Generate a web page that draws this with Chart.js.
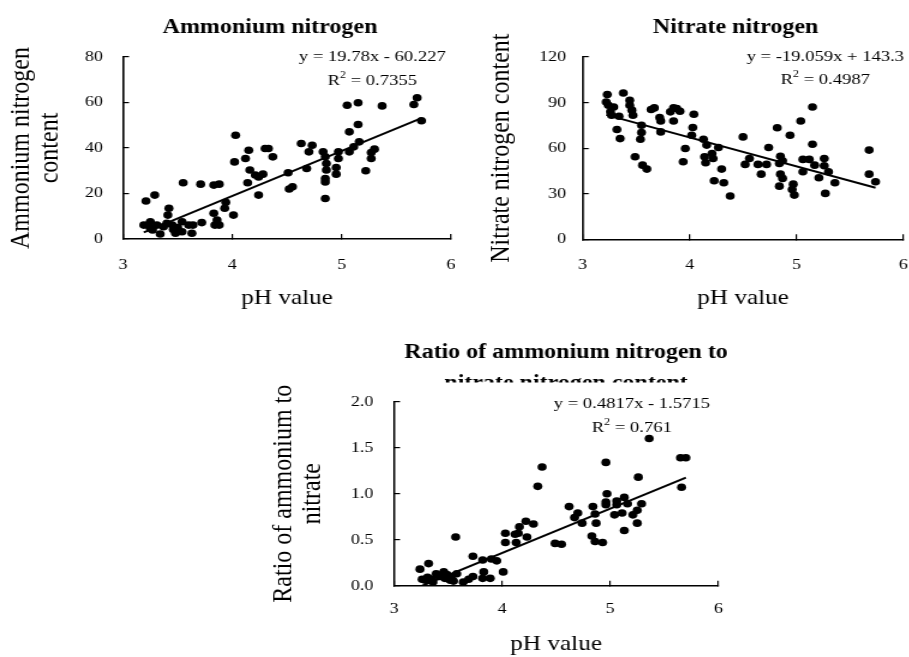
<!DOCTYPE html>
<html><head><meta charset="utf-8">
<script src="https://cdn.jsdelivr.net/npm/chart.js@4/dist/chart.umd.min.js"></script>
<style>
html,body{margin:0;padding:0;background:#fff;width:909px;height:657px;overflow:hidden;position:relative;}
.wrap{position:absolute;transform-origin:0 0;transform:scaleX(1.2);}
canvas{display:block;}
</style></head><body>
<div class="wrap" id="w1"><canvas id="c1"></canvas></div>
<div class="wrap" id="w2"><canvas id="c2"></canvas></div>
<div class="wrap" id="w3"><canvas id="c3"></canvas></div>
<script>
// ---------- data ----------
const ammPH = [3.19,3.21,3.23,3.25,3.25,3.27,3.29,3.31,3.34,3.37,3.40,3.41,3.42,3.45,3.46,3.48,3.50,3.54,3.54,3.55,3.60,3.63,3.64,3.71,3.72,3.83,3.83,3.84,3.86,3.88,3.88,3.93,3.94,4.01,4.02,4.03,4.12,4.14,4.15,4.16,4.21,4.24,4.24,4.28,4.30,4.33,4.37,4.51,4.52,4.55,4.63,4.68,4.70,4.73,4.83,4.85,4.85,4.85,4.85,4.86,4.86,4.95,4.95,4.97,4.97,5.05,5.07,5.07,5.11,5.15,5.15,5.16,5.22,5.27,5.27,5.30,5.37,5.66,5.69,5.73];
const ammVal = [6.1,16.7,6.1,4.7,7.6,4.0,19.3,6.1,2.2,5.4,6.9,10.5,13.5,6.1,4.2,2.5,5.0,7.6,3.2,24.7,6.1,2.5,6.1,24.1,7.2,23.7,11.3,6.1,8.3,24.1,6.1,13.5,16.1,10.5,33.9,45.6,35.4,24.7,39.0,30.3,28.1,27.3,19.3,28.5,39.8,39.8,36.1,29.1,22.0,23.0,42.0,31.0,38.3,41.2,38.3,36.1,26.6,25.1,17.8,33.2,30.3,31.4,28.5,35.4,38.3,58.8,47.1,38.3,40.5,59.9,50.3,42.7,30.0,35.4,38.0,39.5,58.5,59.1,62.1,52.0];

const nitPH = [3.23,3.22,3.24,3.29,3.26,3.27,3.34,3.38,3.44,3.44,3.46,3.47,3.32,3.35,3.49,3.55,3.55,3.54,3.56,3.60,3.64,3.67,3.72,3.73,3.73,3.82,3.85,3.88,3.91,3.85,3.96,3.94,4.04,4.03,4.02,4.13,4.16,4.14,4.15,4.21,4.22,4.27,4.23,4.30,4.32,4.38,4.50,4.52,4.56,4.64,4.67,4.72,4.74,4.82,4.85,4.84,4.87,4.85,4.87,4.84,4.94,4.97,4.96,4.98,5.04,5.06,5.06,5.12,5.15,5.15,5.17,5.21,5.26,5.26,5.27,5.30,5.36,5.68,5.68,5.74];
const nitVal = [95.3,90.4,88.2,87.1,83.9,81.7,81.0,96.3,91.5,88.2,85.0,81.7,72.3,66.3,54.3,75.1,70.3,65.9,48.8,46.2,85.4,86.5,80.1,77.9,70.7,83.9,86.5,86.1,84.3,77.9,59.8,51.0,82.3,73.6,68.5,65.9,62.0,54.3,50.4,56.5,53.2,60.4,38.5,46.2,37.2,28.5,67.4,49.3,53.2,49.3,42.9,49.3,60.4,73.4,54.7,49.9,51.7,42.9,40.1,35.0,68.5,36.3,32.8,29.1,77.9,44.5,52.6,52.6,87.1,62.6,48.8,40.5,53.2,48.4,30.2,44.5,37.2,58.7,42.9,37.9];

const ratPH = [3.24,3.31,3.32,3.26,3.29,3.35,3.36,3.39,3.42,3.44,3.46,3.47,3.49,3.52,3.53,3.57,3.58,3.55,3.64,3.69,3.73,3.73,3.82,3.83,3.82,3.89,3.90,3.95,4.01,4.03,4.03,4.12,4.13,4.16,4.15,4.22,4.23,4.29,4.33,4.37,4.49,4.55,4.62,4.67,4.70,4.74,4.84,4.86,4.87,4.83,4.86,4.93,4.96,4.97,4.96,4.96,5.04,5.06,5.06,5.11,5.13,5.13,5.16,5.21,5.25,5.25,5.26,5.29,5.36,5.65,5.70,5.66];
const ratVal = [0.18,0.09,0.24,0.07,0.06,0.07,0.04,0.13,0.10,0.11,0.15,0.08,0.12,0.06,0.09,0.53,0.13,0.05,0.04,0.07,0.10,0.32,0.28,0.15,0.08,0.08,0.29,0.27,0.15,0.57,0.47,0.56,0.47,0.64,0.57,0.70,0.53,0.67,1.08,1.29,0.46,0.45,0.86,0.74,0.79,0.68,0.86,0.78,0.68,0.54,0.48,0.47,1.34,1.00,0.91,0.88,0.77,0.92,0.88,0.79,0.96,0.60,0.89,0.77,0.82,0.68,1.18,0.89,1.60,1.39,1.39,1.07];

// trendline coefficients [slope, intercept], R²
const ammFit = [19.78, -60.227];  const ammR2 = '0.7355';
const nitFit = [-19.059, 143.3];  const nitR2 = '0.4987';
const ratFit = [0.4817, -1.5715]; const ratR2 = '0.761';

// axis ticks
const xTicks = [3, 4, 5, 6];
const ammTicks = [0, 20, 40, 60, 80];
const nitTicks = [0, 30, 60, 90, 120];
const ratTicks = [0, 0.5, 1.0, 1.5, 2.0];

const titles = ['Ammonium nitrogen', 'Nitrate nitrogen', ['Ratio of ammonium nitrogen to', 'nitrate nitrogen content']];
const yTitles = [['Ammonium nitrogen', 'content'], 'Nitrate nitrogen content', ['Ratio of ammonium to', 'nitrate']];
const xTitle = 'pH value';

// ---------- rendering ----------
const S = 1.2;
const FONT = "'Liberation Serif', 'Times New Roman', serif";

function eqString(fit) {
  const b = fit[1];
  return 'y = ' + fit[0] + 'x ' + (b < 0 ? '- ' : '+ ') + Math.abs(b);
}
function pts(xs, ys) { return xs.map((x, i) => ({x: x, y: ys[i]})); }
function trend(xs, fit) {
  const lo = Math.min(...xs), hi = Math.max(...xs);
  return [lo, hi].map(x => ({x: x, y: fit[0] * x + fit[1]}));
}

const eqPlugin = {
  id: 'eqText',
  beforeDatasetsDraw(chart, args, o) {
    if (o.cover) {
      const c = o.cover, ctx = chart.ctx;
      ctx.save(); ctx.fillStyle = '#fff'; ctx.fillRect(c.x, c.y, c.w, c.h); ctx.restore();
    }
  },
  afterDatasetsDraw(chart, args, o) {
    const ctx = chart.ctx, xs = chart.scales.x, ys = chart.scales.y;
    const sz = o.size;
    ctx.save();
    ctx.fillStyle = '#000';
    ctx.textBaseline = 'middle';
    ctx.textAlign = 'center';
    ctx.font = sz + 'px ' + FONT;
    const cx = xs.getPixelForValue(o.cx);
    ctx.fillText(o.eq, cx, ys.getPixelForValue(o.eqY));
    const yy = ys.getPixelForValue(o.r2Y);
    const a = 'R', b = ' = ' + o.r2;
    const wa = ctx.measureText(a).width, wb = ctx.measureText(b).width;
    ctx.font = (sz * 0.65) + 'px ' + FONT;
    const ws = ctx.measureText('2').width;
    const x0 = cx - (wa + ws + wb) / 2;
    ctx.textAlign = 'left';
    ctx.fillText('2', x0 + wa, yy - sz * 0.33);
    ctx.font = sz + 'px ' + FONT;
    ctx.fillText(a, x0, yy);
    ctx.fillText(b, x0 + wa + ws, yy);
    ctx.restore();
  }
};

function makeChart(cfg) {
  const wrap = document.getElementById(cfg.wrap);
  wrap.style.left = cfg.left + 'px';
  wrap.style.top = cfg.top + 'px';
  const cv = document.getElementById(cfg.canvas);
  const W = Math.round(cfg.width / S);
  cv.width = W; cv.height = cfg.height;
  cv.style.width = W + 'px'; cv.style.height = cfg.height + 'px';
  const padR = W - (cfg.plotRight - cfg.left) / S;
  return new Chart(cv, {
    type: 'scatter',
    data: {
      datasets: [
        {type: 'line', data: cfg.trend, borderColor: '#000', borderWidth: 2, pointRadius: 0, fill: false, showLine: true},
        {data: cfg.points, pointStyle: 'circle', pointRadius: 3.8, backgroundColor: '#000', borderWidth: 0}
      ]
    },
    options: {
      responsive: false, animation: false, events: [],
      layout: {padding: 0},
      plugins: {
        legend: {display: false}, tooltip: {enabled: false},
        title: {display: true, text: cfg.title, color: '#000',
          font: {family: FONT, size: 20, weight: 'bold', lineHeight: cfg.titleLH},
          padding: {top: cfg.titlePadT, bottom: cfg.titlePadB}},
        eqText: cfg.eq
      },
      scales: {
        x: {
          type: 'linear', min: 3, max: 6,
          afterFit(s) { s.height = cfg.xH; },
          afterBuildTicks(s) { s.ticks = xTicks.map(v => ({value: v})); },
          ticks: {color: '#000', font: {family: FONT, size: 15}, padding: cfg.xTickPad, autoSkip: false, maxRotation: 0},
          grid: {display: true, drawOnChartArea: false, drawTicks: true, tickLength: -5, color: '#000', lineWidth: 1.2},
          border: {display: true, color: '#000', width: 1.6},
          title: {display: true, text: xTitle, color: '#000', font: {family: FONT, size: 21, lineHeight: 1.2}, padding: {top: 0, bottom: cfg.xTitlePad}}
        },
        y: {
          type: 'linear', min: cfg.yTicks[0], max: cfg.yTicks[cfg.yTicks.length - 1],
          afterFit(s) { s.width = (cfg.plotLeft - cfg.left) / S; },
          afterBuildTicks(s) { s.ticks = cfg.yTicks.map(v => ({value: v})); },
          ticks: {color: '#000', font: {family: FONT, size: 15}, padding: cfg.yTickPad, autoSkip: false,
            callback: v => cfg.yDec ? Number(v).toFixed(cfg.yDec) : String(v)},
          grid: {display: true, drawOnChartArea: false, drawTicks: true, tickLength: -5, color: '#000', lineWidth: 1.2},
          border: {display: true, color: '#000', width: 1.6},
          title: {display: true, text: cfg.yTitle, color: '#000', font: {family: FONT, size: 24, lineHeight: 1.0}, padding: {top: cfg.yTitlePad, bottom: 0}}
        },
        // empty right-side spacer so the title stays centred on the whole canvas
        yR: {
          type: 'linear', axis: 'y', position: 'right', display: true, min: 0, max: 1,
          afterFit(s) { s.width = padR; },
          ticks: {display: false},
          grid: {display: false, drawTicks: false},
          border: {display: false},
          title: {display: false}
        }
      }
    },
    plugins: [eqPlugin]
  });
}

makeChart({
  wrap: 'w1', canvas: 'c1', left: 0, top: 0, width: 540, height: 320,
  plotLeft: 123, plotRight: 451,
  title: titles[0], titleLH: 1.2, titlePadT: 16.2, titlePadB: 16.8,
  xH: 81, xTickPad: 22, xTitlePad: 9,
  yTicks: ammTicks, yDec: 0, yTickPad: 21.7, yTitle: yTitles[0], yTitlePad: 6.2,
  points: pts(ammPH, ammVal), trend: trend(ammPH, ammFit),
  eq: {eq: eqString(ammFit), r2: ammR2, cx: 5.28, eqY: 80.1, r2Y: 69.6, size: 15.5}
});

makeChart({
  wrap: 'w2', canvas: 'c2', left: 480, top: 0, width: 511, height: 320,
  plotLeft: 582.7, plotRight: 903.3,
  title: titles[1], titleLH: 1.2, titlePadT: 16.2, titlePadB: 16.8,
  xH: 80.7, xTickPad: 22, xTitlePad: 9,
  yTicks: nitTicks, yDec: 0, yTickPad: 18.9, yTitle: yTitles[1], yTitlePad: 5.6,
  points: pts(nitPH, nitVal), trend: trend(nitPH, nitFit),
  eq: {eq: eqString(nitFit), r2: nitR2, cx: 5.27, eqY: 120, r2Y: 105, size: 15.5}
});

makeChart({
  wrap: 'w3', canvas: 'c3', left: 260, top: 330, width: 612, height: 327,
  plotLeft: 394, plotRight: 718.3,
  title: titles[2], titleLH: 1.55, titlePadT: 7, titlePadB: 2.7,
  xH: 71.3, xTickPad: 19.3, xTitlePad: 0,
  yTicks: ratTicks, yDec: 1, yTickPad: 22.2, yTitle: yTitles[2], yTitlePad: 8.2,
  points: pts(ratPH, ratVal), trend: trend(ratPH, ratFit),
  eq: {eq: eqString(ratFit), r2: ratR2, cx: 5.20, eqY: 1.98, r2Y: 1.72, size: 15.5,
       cover: {x: 150, y: 52.5, w: 260, h: 14}}
});
</script>
</body></html>
